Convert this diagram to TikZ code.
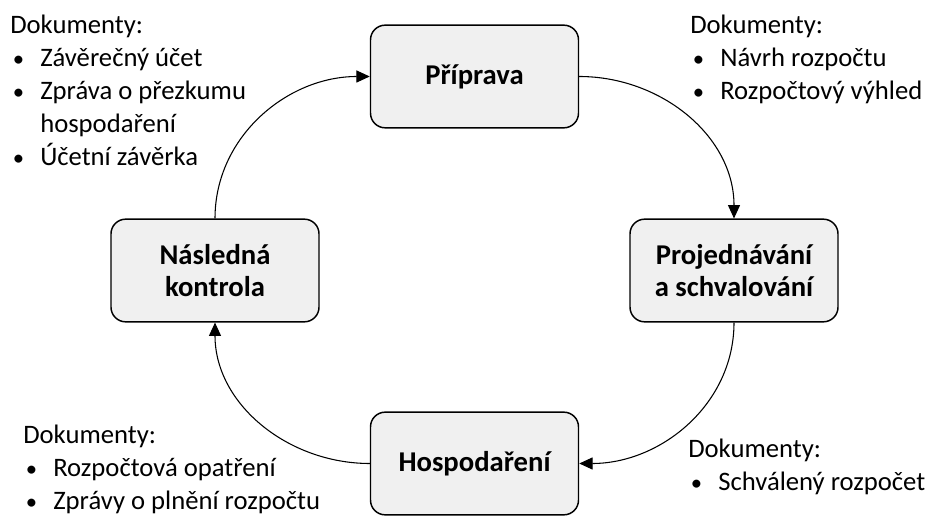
\documentclass[tikz,border=0pt]{standalone}
\usepackage{fontspec}
\setmainfont{Carlito}
\usepackage{tikz}
\usetikzlibrary{
    arrows.meta
}
\definecolor{boxgray}{HTML}{F0F0F0}
\newcommand{\bod}{\makebox[22.5pt][l]{\hspace{2pt}\scalebox{0.85}{\textbullet}}}

\begin{document}
\begin{tikzpicture}[x=0.75pt, y=-0.75pt,
    phase/.style={draw, line width=1.1pt, fill=boxgray, rounded corners=11pt,
        minimum width=156pt, minimum height=77pt, align=center,
        font=\fontsize{21.5}{24}\selectfont\bfseries},
    docs/.style={anchor=north west, inner sep=0pt, align=left,
        font=\fontsize{20}{24.75}\selectfont},
    flow/.style={line width=0.8pt, -{Triangle[length=10pt, width=9pt]}}]
    \useasboundingbox (0, 0) rectangle (931, 516);

    \node[phase] (priprava) at (474.5, 76.5) {Příprava};
    \node[phase] (projednavani) at (734, 270.5) {Projednávání\\a schvalování};
    \node[phase] (hospodareni) at (474.5, 463.5) {Hospodaření};
    \node[phase] (kontrola) at (215, 270.5) {Následná\\kontrola};

    \node[docs] (docKontrola) at (10, 14.5) {Dokumenty:\\
        \bod Závěrečný účet\\
        \bod Zpráva o přezkumu\\
        \hspace*{22.5pt}hospodaření\\
        \bod Účetní závěrka};
    \node[docs] (docPriprava) at (690, 14.5) {Dokumenty:\\
        \bod Návrh rozpočtu\\
        \bod Rozpočtový výhled};
    \node[docs] (docProjednavani) at (688, 438.5) {Dokumenty:\\
        \bod Schválený rozpočet};
    \node[docs] (docHospodareni) at (23, 425) {Dokumenty:\\
        \bod Rozpočtová opatření\\
        \bod Zprávy o plnění rozpočtu};

    \draw[flow] (priprava.east) to[out=0, in=90] (projednavani.north);
    \draw[flow] (projednavani.south) to[out=-90, in=0] (hospodareni.east);
    \draw[flow] (hospodareni.west) to[out=180, in=-90] (kontrola.south);
    \draw[flow] (kontrola.north) to[out=90, in=180] (priprava.west);
\end{tikzpicture}
\end{document}
